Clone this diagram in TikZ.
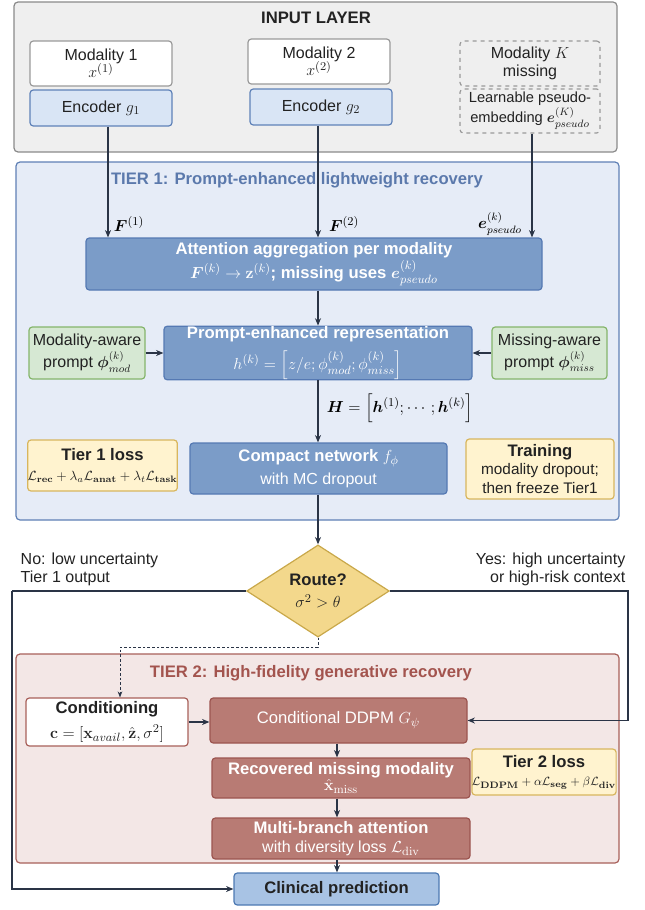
\documentclass[tikz,border=0pt]{standalone}
\usepackage{amsmath}
\usepackage{bm}
\usepackage[no-math]{fontspec}
\setmainfont{Liberation Sans}
\usetikzlibrary{arrows.meta,shapes.geometric}
\definecolor{inpfill}{HTML}{EFEFEF}
\definecolor{inpdraw}{HTML}{8A8A8A}
\definecolor{grayb}{HTML}{9A9A9A}
\definecolor{encfill}{HTML}{D9E5F5}
\definecolor{encdraw}{HTML}{5F82B8}
\definecolor{tonefill}{HTML}{E6ECF7}
\definecolor{tonedraw}{HTML}{5F80B5}
\definecolor{tonetext}{HTML}{5B79AC}
\definecolor{dbfill}{HTML}{7B9CC8}
\definecolor{dbdraw}{HTML}{5579B3}
\definecolor{grfill}{HTML}{D6E8D3}
\definecolor{grdraw}{HTML}{85B56B}
\definecolor{yefill}{HTML}{FFF3CF}
\definecolor{yedraw}{HTML}{D8B65E}
\definecolor{dmfill}{HTML}{F3D88C}
\definecolor{dmdraw}{HTML}{C9A84A}
\definecolor{ttwofill}{HTML}{F3E7E6}
\definecolor{ttwodraw}{HTML}{A8605A}
\definecolor{ttwotext}{HTML}{A3544E}
\definecolor{brfill}{HTML}{B87B74}
\definecolor{brdraw}{HTML}{9C5550}
\definecolor{clfill}{HTML}{A8C3E4}
\definecolor{cldraw}{HTML}{4D79B2}
\definecolor{lnc}{HTML}{2A3446}
\definecolor{txt}{HTML}{222222}
\newcommand{\fA}{\fontsize{12}{14}\selectfont}
\newcommand{\fT}{\fontsize{12.5}{15}\selectfont}
\newcommand{\fS}{\fontsize{10}{12}\selectfont}
\newcommand{\fM}{\fontsize{13}{15}\selectfont}
\begin{document}
\begin{tikzpicture}[x=0.75pt,y=-0.75pt,
 sz/.style 2 args={minimum width=#1*0.75pt, minimum height=#2*0.75pt},
 frame/.style={rectangle, rounded corners=3pt, line width=0.9pt, inner sep=0pt},
 bx/.style={rectangle, rounded corners=2.5pt, line width=0.9pt, inner sep=0pt, align=center, font=\fA, text=txt},
 dkbox/.style={bx, fill=dbfill, draw=dbdraw, text=white},
 brbox/.style={bx, fill=brfill, draw=brdraw, text=white},
 grbox/.style={bx, fill=grfill, draw=grdraw},
 yebox/.style={bx, fill=yefill, draw=yedraw},
 ar/.style={draw=lnc, line width=0.9pt, -{Stealth[length=5.5pt,width=4.5pt]}},
 ln/.style={draw=lnc, line width=0.9pt},
]
\useasboundingbox (0,0) rectangle (645,910);
% frames
\node[frame, fill=inpfill, draw=inpdraw, sz={603}{150}] (inp) at (315.5,77) {};
\node[frame, fill=tonefill, draw=tonedraw, sz={603}{358}] (tone) at (317.5,341) {};
\node[frame, fill=ttwofill, draw=ttwodraw, sz={603}{209}] (ttwo) at (317.5,758.5) {};
\node[font=\bfseries\fT, text=txt] (inpt) at (316,18) {INPUT LAYER};
\node[font=\bfseries\fT, text=tonetext] (tonet) at (297,180) {TIER 1: Prompt-enhanced lightweight recovery};
\node[font=\bfseries\fT, text=ttwotext] (ttwot) at (311,673) {TIER 2: High-fidelity generative recovery};
% input layer
\node[bx, fill=white, draw=grayb, sz={142}{45}] (m1) at (101,63.5) {Modality 1\\[-1pt]{\fM$x^{(1)}$}};
\node[bx, fill=encfill, draw=encdraw, sz={142}{36}] (g1) at (101,108) {Encoder {\fM$g_1$}};
\node[bx, fill=white, draw=grayb, sz={142}{45}] (m2) at (319,61.5) {Modality 2\\[-1pt]{\fM$x^{(2)}$}};
\node[bx, fill=encfill, draw=encdraw, sz={142}{36}] (g2) at (321,107) {Encoder {\fM$g_2$}};
\node[bx, fill=inpfill, draw=grayb, dashed, sz={140}{45}] (mk) at (530,63.5) {Modality {\fM$K$}\\missing};
\node[bx, fill=inpfill, draw=grayb, dashed, font=\fontsize{11}{13}\selectfont, sz={140}{44}] (pe) at (530,111) {Learnable pseudo-\\embedding $\boldsymbol{e}^{(K)}_{pseudo}$};
% tier 1
\node[dkbox, font=\bfseries\fT, sz={456}{52}] (att) at (314,264) {Attention aggregation per modality\\[1pt]$\boldsymbol{F}^{(k)}\rightarrow\mathbf{z}^{(k)}$; missing uses $\boldsymbol{e}^{(k)}_{pseudo}$};
\node[grbox, sz={116}{52}] (pm) at (87,353) {Modality-aware\\[1pt]prompt $\boldsymbol{\phi}^{(k)}_{mod}$};
\node[dkbox, sz={308}{52}] (pr) at (318,353) {\textbf{\fT Prompt-enhanced representation}\\[6pt]{\fM$h^{(k)}=\Bigl[z/e;\phi^{(k)}_{mod};\phi^{(k)}_{miss}\Bigr]$}};
\node[grbox, sz={115}{52}] (pmiss) at (549.5,353) {Missing-aware\\[1pt]prompt $\boldsymbol{\phi}^{(k)}_{miss}$};
\node[dkbox, sz={257}{51}] (cmp) at (318.5,468.5) {\textbf{\fT Compact network} {\fM$f_\phi$}\\[3pt]with MC dropout};
\node[yebox, sz={147}{51}] (lone) at (102.5,465.5) {\textbf{\fT Tier 1 loss}\\[1pt]{\fS$\mathcal{L}_{\mathbf{rec}}+\lambda_a\mathcal{L}_{\mathbf{anat}}+\lambda_t\mathcal{L}_{\mathbf{task}}$}};
\node[yebox, sz={148}{60}] (tr) at (540,469) {\textbf{\fT Training}\\{\fontsize{11.5}{13.5}\selectfont modality dropout;}\\{\fontsize{11.5}{13.5}\selectfont then freeze Tier1}};
\node[font=\fM] (lfa) at (129,224) {$\boldsymbol{F}^{(1)}$};
\node[font=\fM] (lfb) at (344,224) {$\boldsymbol{F}^{(2)}$};
\node[font=\fA] (lfe) at (500,224) {$\boldsymbol{e}^{(k)}_{pseudo}$};
\node[font=\fM] (hl) at (400,408) {$\boldsymbol{H}=\Bigl[\boldsymbol{h}^{(1)};\cdots;\boldsymbol{h}^{(k)}\Bigr]$};
% route
\node[diamond, fill=dmfill, draw=dmdraw, line width=0.9pt, minimum width=107pt, minimum height=68pt, inner sep=0pt, align=center, font=\fA, text=txt] (route) at (318,591) {\textbf{\fT Route?}\\[3pt]{\fM$\sigma^2>\theta$}};
\node[anchor=north west, align=left, font=\fA, text=txt] (nol) at (16,548) {No: low uncertainty\\Tier 1 output};
\node[anchor=north east, align=right, font=\fA, text=txt] (yesl) at (630,548) {Yes: high uncertainty\\or high-risk context};
% tier 2
\node[bx, fill=white, draw=ttwodraw, sz={162}{48}] (cond) at (107,722) {\textbf{\fT Conditioning}\\[5pt]{\fM$\mathbf{c}=[\mathbf{x}_{avail},\hat{\mathbf{z}},\sigma^2]$}};
\node[brbox, font=\fT, sz={257}{45}] (ddpm) at (338.5,720.5) {Conditional DDPM {\fM$G_\psi$}};
\node[brbox, sz={258}{40}] (rec) at (341,778) {\textbf{\fT Recovered missing modality}\\[-2pt]{\fM$\hat{\mathbf{x}}_{\mathrm{miss}}$}};
\node[yebox, sz={144}{46}] (ltwo) at (544,772) {\textbf{\fT Tier 2 loss}\\{\fontsize{9.5}{11.5}\selectfont$\mathcal{L}_{\mathbf{DDPM}}+\alpha\mathcal{L}_{\mathbf{seg}}+\beta\mathcal{L}_{\mathbf{div}}$}};
\node[brbox, sz={258}{41}] (mb) at (341,838.5) {\textbf{\fT Multi-branch attention}\\with diversity loss {\fM$\mathcal{L}_{\mathrm{div}}$}};
\node[bx, fill=clfill, draw=cldraw, font=\bfseries\fT, sz={205}{32}] (cl) at (336.5,889) {Clinical prediction};
% connectors
\coordinate (ca) at (108,0);
\coordinate (cb) at (318,0);
\coordinate (cc) at (532,0);
\coordinate (cd) at (337,0);
\draw[ar] (g1.south -| ca) -- (att.north -| ca);
\draw[ar] (g2.south -| cb) -- (att.north -| cb);
\draw[ar] (pe.south -| cc) -- (att.north -| cc);
\draw[ar] (att.south -| cb) -- (pr.north -| cb);
\draw[ar] (pm.east) -- (pr.west);
\draw[ar] (pmiss.west) -- (pr.east);
\draw[ar] (pr.south -| cb) -- (cmp.north -| cb);
\draw[ar] (cmp.south -| cb) -- (route.north);
\coordinate (lw) at (12,591);
\coordinate (re) at (628,591);
\draw[ln] (route.west) -- (lw);
\draw[ar] (lw) |- (cl.west);
\draw[ar] (route.east) -- (re) |- (ddpm.east);
\coordinate (dk) at (318,647);
\coordinate (dl) at (120,647);
\draw[draw=lnc, line width=0.6pt, dash pattern=on 2pt off 1.5pt, -{Stealth[length=4.5pt,width=3.5pt]}] (route.south) -- (dk) -- (dl) -- (dl |- cond.north);
\draw[ar] (cond.east) -- (ddpm.west |- cond.east);
\draw[ar] (ddpm.south -| cd) -- (rec.north -| cd);
\draw[ar] (rec.south -| cd) -- (mb.north -| cd);
\draw[ar] (mb.south -| cd) -- (cl.north -| cd);
\end{tikzpicture}
\end{document}
